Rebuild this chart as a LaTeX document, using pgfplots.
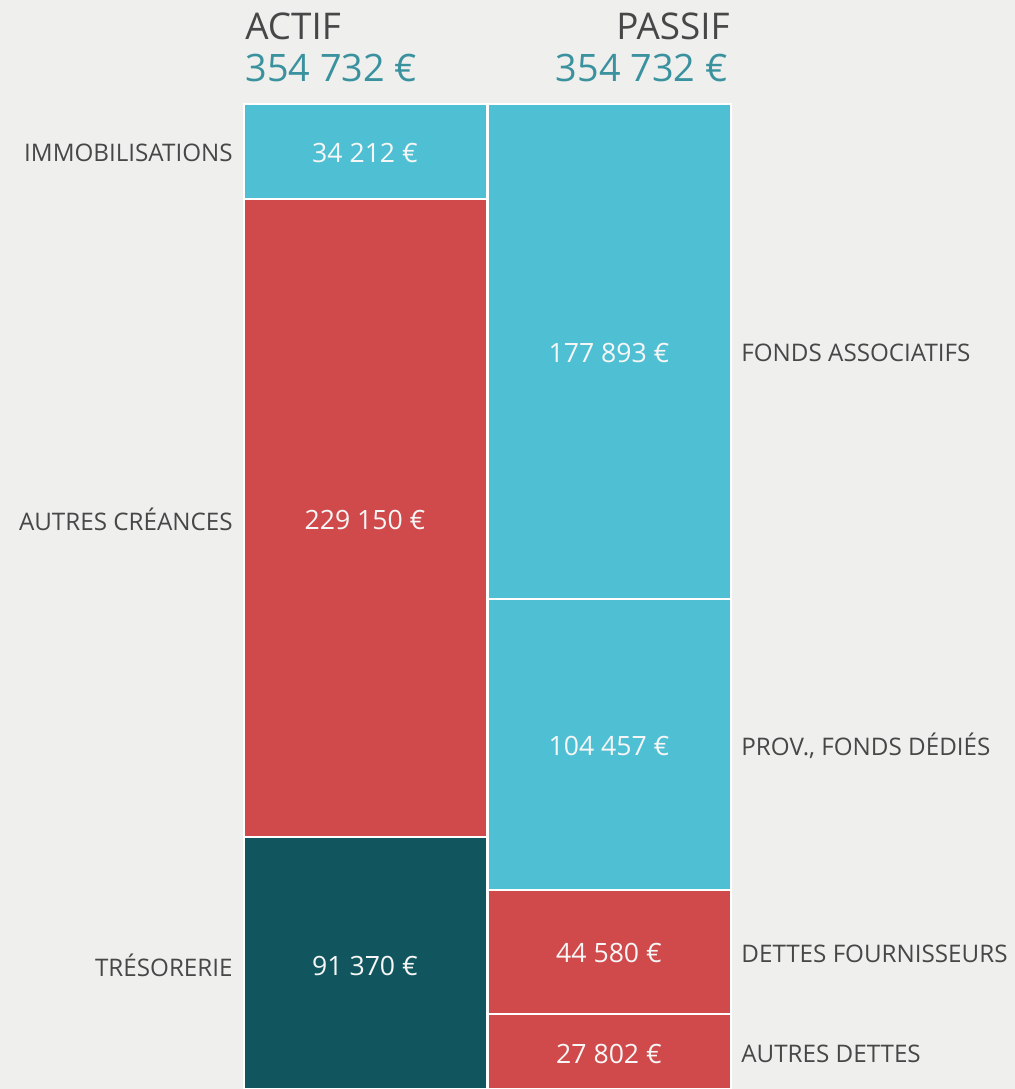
\documentclass[border=0pt]{standalone}
\usepackage{pgfplots}
\pgfplotsset{compat=1.18}
\usepackage{fontspec}
\setmainfont{Open Sans}
\definecolor{bg}{HTML}{EFEFEE}
\definecolor{cblue}{HTML}{4FC0D3}
\definecolor{cred}{HTML}{D04A4B}
\definecolor{cteal}{HTML}{11565E}
\definecolor{ctext}{HTML}{474747}
\definecolor{ctotal}{HTML}{3A929E}
\definecolor{cval}{HTML}{F6F6F6}
\pgfplotsset{
  base/.style={
    width=507.5pt, height=544.5pt, scale only axis,
    xmin=0, xmax=1015, ymin=719, ymax=391953,
    hide axis,
    ybar stacked, bar width=243,
  },
  seg/.style={fill=#1, draw=white, line width=1pt},
}
\tikzset{
  lab/.style={inner sep=0, yshift=-0.9pt, font=\fontsize{12.1}{14}\selectfont, text=ctext},
  val/.style={inner sep=0, yshift=-0.9pt, font=\fontsize{13.3}{15}\selectfont, text=cval},
}
\begin{document}
\begin{tikzpicture}
\fill[bg] (0,0) rectangle (507.5pt,544.5pt);
\begin{axis}[base]
  \addplot[seg=cteal] coordinates {(365,91370)};
  \addplot[seg=cred] coordinates {(365,229150)};
  \addplot[seg=cblue] coordinates {(365,34212)};
\end{axis}
\begin{axis}[base]
  \addplot[seg=cred] coordinates {(609,27802)};
  \addplot[seg=cred] coordinates {(609,44580)};
  \addplot[seg=cblue] coordinates {(609,104457)};
  \addplot[seg=cblue] coordinates {(609,177893)};
\end{axis}
\begin{axis}[base, clip=false]
  % titles
  \node[anchor=base west, inner sep=0, font=\fontsize{18.4}{20}\selectfont, text=ctext] at (rel axis cs:0.2414,0.9633) {ACTIF};
  \node[anchor=base west, inner sep=0, font=\fontsize{18.9}{20}\selectfont, text=ctotal] at (rel axis cs:0.2414,0.9247) {354 732 €};
  \node[anchor=base east, inner sep=0, font=\fontsize{18.4}{20}\selectfont, text=ctext] at (rel axis cs:0.7192,0.9633) {PASSIF};
  \node[anchor=base east, inner sep=0, font=\fontsize{18.9}{20}\selectfont, text=ctotal] at (rel axis cs:0.7172,0.9247) {354 732 €};
  % values ACTIF
  \node[val] at (axis cs:365,337626) {34 212 €};
  \node[val] at (axis cs:365,205945) {229 150 €};
  \node[val] at (axis cs:365,45685) {91 370 €};
  % labels ACTIF
  \node[lab, anchor=east] at (axis cs:233,337626) {IMMOBILISATIONS};
  \node[lab, anchor=east] at (axis cs:233,205945) {AUTRES CRÉANCES};
  \node[lab, anchor=east] at (axis cs:233,45685) {TRÉSORERIE};
  % values PASSIF
  \node[val] at (axis cs:609,265785) {177 893 €};
  \node[val] at (axis cs:609,124610) {104 457 €};
  \node[val] at (axis cs:609,50092) {44 580 €};
  \node[val] at (axis cs:609,13901) {27 802 €};
  % labels PASSIF
  \node[lab, anchor=west] at (axis cs:741,265785) {FONDS ASSOCIATIFS};
  \node[lab, anchor=west] at (axis cs:741,124610) {PROV., FONDS DÉDIÉS};
  \node[lab, anchor=west] at (axis cs:741,50092) {DETTES FOURNISSEURS};
  \node[lab, anchor=west] at (axis cs:741,13901) {AUTRES DETTES};
\end{axis}
\end{tikzpicture}
\end{document}
